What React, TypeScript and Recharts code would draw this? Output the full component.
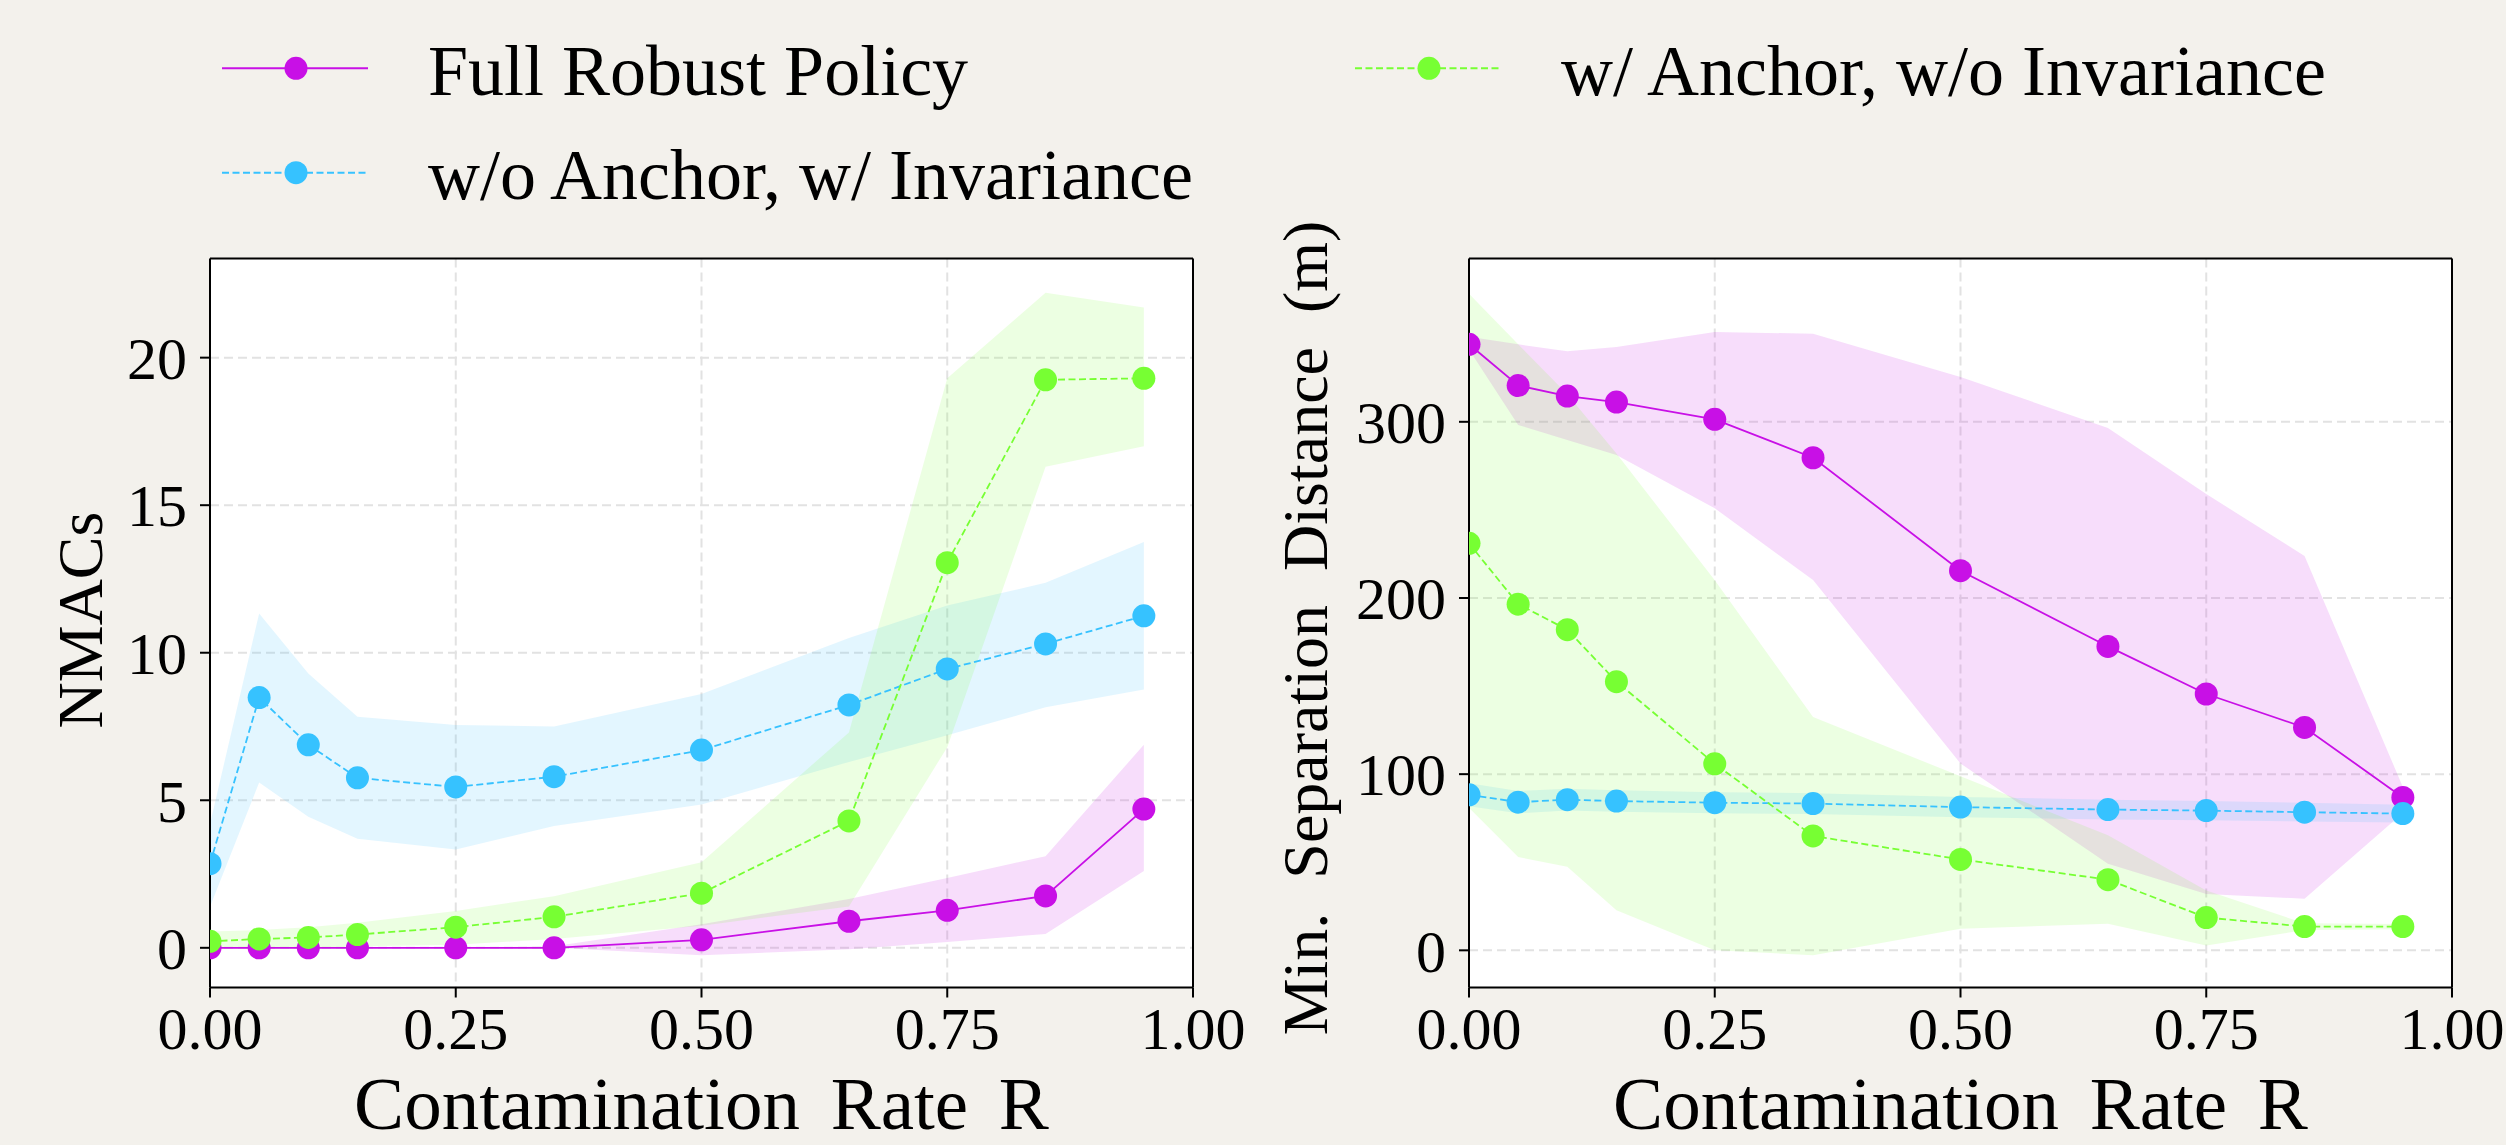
import React from 'react';
import { ComposedChart, Line, Area, XAxis, YAxis, CartesianGrid, ReferenceLine } from 'recharts';

const FONT = '"Liberation Serif", "DejaVu Serif", serif';

// contamination rates R
const rates = [0, 0.05, 0.1, 0.15, 0.25, 0.35, 0.5, 0.65, 0.75, 0.85, 0.95];
const xTicks = [0, 0.25, 0.5, 0.75, 1];

// NMACs (left panel)
const nmacFull = [0, 0, 0, 0, 0, 0, 0.27, 0.9, 1.27, 1.76, 4.7];
const nmacFullLo = [0, 0, 0, 0, 0, 0, -0.25, -0.05, 0.2, 0.47, 2.6];
const nmacFullHi = [0, 0, 0, 0, 0, 0.05, 0.8, 1.65, 2.37, 3.1, 6.88];
const nmacNoAnchor = [2.85, 8.48, 6.88, 5.76, 5.45, 5.8, 6.7, 8.23, 9.45, 10.3, 11.25];
const nmacNoAnchorLo = [1.39, 5.6, 4.44, 3.7, 3.33, 4.13, 4.86, 6.3, 7.2, 8.15, 8.75];
const nmacNoAnchorHi = [4.2, 11.33, 9.3, 7.83, 7.55, 7.5, 8.6, 10.5, 11.6, 12.37, 13.75];
const nmacNoInv = [0.22, 0.3, 0.35, 0.45, 0.7, 1.05, 1.85, 4.3, 13.05, 19.25, 19.3];
const nmacNoInvLo = [-0.05, 0, 0, 0.05, 0.1, 0.3, 0.75, 1.4, 6.8, 16.3, 17.0];
const nmacNoInvHi = [0.55, 0.6, 0.7, 0.85, 1.25, 1.75, 2.9, 7.3, 19.3, 22.2, 21.7];
const nmacTicks = [0, 5, 10, 15, 20];

// minimum separation distance in m (right panel)
const sepFull = [344, 320.6, 314.6, 311.2, 301.4, 279.6, 215.5, 172.5, 145.5, 126.5, 86.8];
const sepFullLo = [341, 298.2, 289.7, 281.2, 250.9, 210.2, 106, 49.2, 32, 29.3, 78];
const sepFullHi = [348.3, 344, 340, 342.4, 351, 350, 325.5, 296.5, 259, 223.9, 92.7];
const sepNoAnchor = [88.3, 84.1, 85.5, 84.7, 83.8, 83.3, 81.3, 79.9, 79.3, 78.4, 77.6];
const sepNoAnchorLo = [81.8, 77.8, 79.3, 78.6, 77.8, 77.4, 75.5, 74.3, 73.8, 73.1, 72.6];
const sepNoAnchorHi = [94.8, 90.4, 91.7, 90.8, 89.8, 89.2, 87.1, 85.5, 84.8, 83.7, 82.6];
const sepNoInv = [231, 196.5, 182, 152.5, 105.9, 64.9, 51.6, 40.1, 18.6, 13.5, 13.5];
const sepNoInvLo = [81, 53, 47.4, 22.7, 0, -2.8, 12.3, 15.1, 2.8, 11.5, 12];
const sepNoInvHi = [372.7, 344, 315.7, 282, 210, 132.4, 98.8, 65.3, 34, 15.3, 15];
const sepTicks = [0, 100, 200, 300];

const series = [
  { key: 'full', name: 'Full Robust Policy', color: '#c810e6', dash: undefined },
  { key: 'noAnchor', name: 'w/o Anchor, w/ Invariance', color: '#36c2ff', dash: '7 3.5' },
  { key: 'noInv', name: 'w/ Anchor, w/o Invariance', color: '#77ff33', dash: '7 3.5' },
];

const buildRows = (vals: number[][], lo: number[][], hi: number[][]) =>
  rates.map((r, i) => {
    const row: any = { r };
    series.forEach((s, k) => {
      row[s.key] = vals[k][i];
      row[s.key + 'Band'] = [lo[k][i], hi[k][i]];
    });
    return row;
  });

const nmacData = buildRows(
  [nmacFull, nmacNoAnchor, nmacNoInv],
  [nmacFullLo, nmacNoAnchorLo, nmacNoInvLo],
  [nmacFullHi, nmacNoAnchorHi, nmacNoInvHi],
);
const sepData = buildRows(
  [sepFull, sepNoAnchor, sepNoInv],
  [sepFullLo, sepNoAnchorLo, sepNoInvLo],
  [sepFullHi, sepNoAnchorHi, sepNoInvHi],
);

const axisStroke = { stroke: '#000', strokeWidth: 2 };

const xLabel = (props: any) => {
  const vb = props.viewBox || { x: 210, y: 807.5, width: 983 };
  return (
    <text x={vb.x + vb.width / 2} y={vb.y + 141} textAnchor="middle" fontSize={75}
      fontFamily={FONT} fill="#000" style={{ wordSpacing: '12px' }}>
      Contamination Rate R
    </text>
  );
};

const yLabel = (text: string, baseX: number, shiftY: number) => (props: any) => {
  const vb = props.viewBox || { y: 78.5, height: 729 };
  const cy = vb.y + vb.height / 2 + shiftY;
  return (
    <text x={baseX} y={cy} transform={`rotate(-90, ${baseX}, ${cy})`} textAnchor="middle"
      fontSize={64} fontFamily={FONT} fill="#000" style={{ wordSpacing: '18px' }}>
      {text}
    </text>
  );
};

interface PanelProps {
  data: any[];
  domain: [number, number];
  ticks: number[];
  yAxisWidth: number;
  rightMargin: number;
  label: (props: any) => React.ReactElement;
}

function Panel({ data, domain, ticks, yAxisWidth, rightMargin, label }: PanelProps) {
  return (
    <ComposedChart width={1253} height={965} data={data}
      margin={{ top: 78.5, right: rightMargin, bottom: 0, left: 0 }}>
      <CartesianGrid fill="#fff" fillOpacity={1} stroke="#e2e2e2" strokeWidth={2} strokeDasharray="9 5"
        verticalValues={xTicks} horizontalValues={ticks} />
      <XAxis dataKey="r" type="number" domain={[0, 1]} ticks={xTicks} interval={0} allowDataOverflow
        tickFormatter={(v: number) => v.toFixed(2)} height={157.5} tickSize={10} tickMargin={9}
        axisLine={axisStroke} tickLine={axisStroke}
        tick={{ fontSize: 60, fill: '#000', fontFamily: FONT }} label={{ content: xLabel }} />
      <YAxis type="number" domain={domain} ticks={ticks} interval={0} allowDataOverflow width={yAxisWidth}
        tickSize={10} tickMargin={13} axisLine={axisStroke} tickLine={axisStroke}
        tick={{ fontSize: 60, fill: '#000', fontFamily: FONT }} label={{ content: label }} />
      {series.map((s) => (
        <Area key={s.key + 'Band'} type="linear" dataKey={s.key + 'Band'} fill={s.color} fillOpacity={0.14}
          stroke="none" activeDot={false} dot={false} isAnimationActive={false} />
      ))}
      {series.map((s) => (
        <Line key={s.key} type="linear" dataKey={s.key} stroke={s.color} strokeWidth={1.8}
          strokeDasharray={s.dash} dot={{ r: 11.5, fill: s.color, stroke: 'none' }}
          activeDot={false} isAnimationActive={false} />
      ))}
      {/* top and right spines of the frame */}
      <ReferenceLine y={domain[1]} stroke="#000" strokeWidth={2} ifOverflow="visible" />
      <ReferenceLine x={1} stroke="#000" strokeWidth={2} ifOverflow="visible" />
    </ComposedChart>
  );
}

function Legend() {
  return (
    <svg width={2506} height={230} style={{ position: 'absolute', left: 0, top: 0 }}>
      {series.map((s, i) => {
        const x0 = [222, 1355][Math.floor(i / 2)];
        const y = [68.3, 172.7][i % 2];
        return (
          <g key={s.key}>
            <line x1={x0} x2={x0 + 146} y1={y} y2={y} stroke={s.color} strokeWidth={2}
              strokeDasharray={s.dash} />
            <circle cx={x0 + 74} cy={y} r={11.5} fill={s.color} />
            <text x={x0 + 206} y={y + 26.5} fontSize={72} fontFamily={FONT} fill="#000">{s.name}</text>
          </g>
        );
      })}
    </svg>
  );
}

export default function App() {
  return (
    <div style={{ position: 'absolute', left: 0, top: 0, width: 2506, height: 1145, background: '#f3f1ec', overflow: 'hidden' }}>
      <Legend />
      <div style={{ position: 'absolute', left: 0, top: 180 }}>
        <Panel data={nmacData} domain={[-1.345, 23.36]} ticks={nmacTicks} yAxisWidth={210} rightMargin={60}
          label={yLabel('NMACs', 102, -3)} />
      </div>
      <div style={{ position: 'absolute', left: 1253, top: 180 }}>
        <Panel data={sepData} domain={[-21.1, 392.7]} ticks={sepTicks} yAxisWidth={216} rightMargin={54}
          label={yLabel('Min. Separation Distance (m)', 73.7, 5)} />
      </div>
    </div>
  );
}
